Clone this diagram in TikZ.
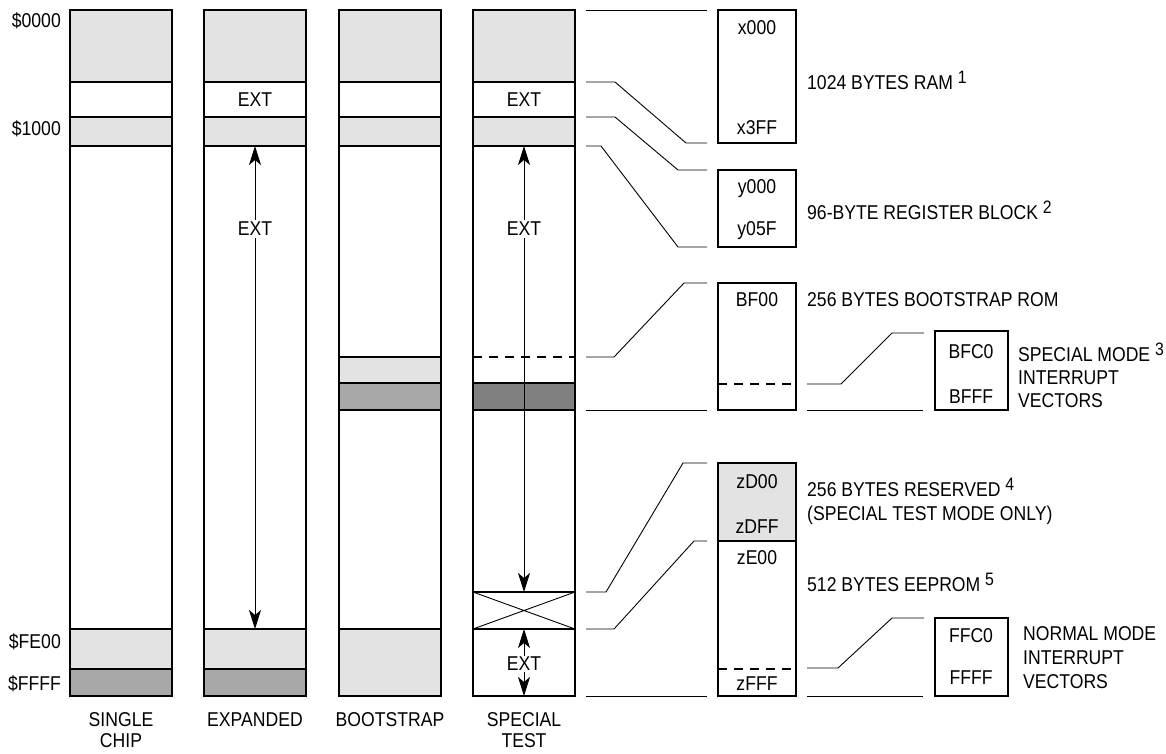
\documentclass[tikz,border=0pt]{standalone}
\usepackage{fontspec}
\setmainfont{Liberation Sans}[FakeStretch=0.88]
\usetikzlibrary{arrows.meta}
\definecolor{lg}{HTML}{E3E3E3}
\definecolor{mg}{HTML}{A8A8A8}
\definecolor{dg}{HTML}{808080}
\newcommand{\sups}[1]{\raisebox{6pt}{\fontsize{18}{18}\selectfont #1}}
\begin{document}
\begin{tikzpicture}[x=1pt,y=-1pt,
  txt/.style={font=\fontsize{20}{23}\selectfont, inner sep=0pt},
  colbox/.style={draw=black, line width=2pt},
  bandline/.style={line width=1.8pt},
  conn/.style={line width=0.9pt},
  arr/.style={line width=0.9pt, -{Stealth[length=19pt,width=12pt,inset=5pt]}},
  dsh/.style={line width=2pt, dash pattern=on 9pt off 7pt},
  extlbl/.style={txt, fill=white, inner sep=2pt},
]
\useasboundingbox (0,0) rectangle (1166,753);

% ---------- Column 1: single chip ----------
\fill[lg] (70,10) rectangle (172,82);
\fill[lg] (70,117) rectangle (172,146);
\fill[lg] (70,629) rectangle (172,669);
\fill[mg] (70,669) rectangle (172,696);
\draw[bandline] (70,82)--(172,82) (70,117)--(172,117) (70,146)--(172,146)
  (70,629)--(172,629) (70,669)--(172,669);
\draw[colbox] (70,10) rectangle (172,696);

% ---------- Column 2: expanded ----------
\fill[lg] (204,10) rectangle (306,82);
\fill[lg] (204,117) rectangle (306,146);
\fill[lg] (204,629) rectangle (306,669);
\fill[mg] (204,669) rectangle (306,696);
\draw[bandline] (204,82)--(306,82) (204,117)--(306,117) (204,146)--(306,146)
  (204,629)--(306,629) (204,669)--(306,669);
\draw[colbox] (204,10) rectangle (306,696);
\node[txt] (ext2a) at (255,100) {EXT};
\node[extlbl] (ext2b) at (255,229) {EXT};
\coordinate (e2top) at (255,146);
\coordinate (e2bot) at (255,629);
\draw[arr] (ext2b.north) -- (e2top);
\draw[arr] (ext2b.south) -- (e2bot);

% ---------- Column 3: bootstrap ----------
\fill[lg] (339,10) rectangle (441,82);
\fill[lg] (339,117) rectangle (441,146);
\fill[lg] (339,357) rectangle (441,383);
\fill[mg] (339,383) rectangle (441,410);
\fill[lg] (339,629) rectangle (441,696);
\draw[bandline] (339,82)--(441,82) (339,117)--(441,117) (339,146)--(441,146)
  (339,357)--(441,357) (339,383)--(441,383) (339,410)--(441,410) (339,629)--(441,629);
\draw[colbox] (339,10) rectangle (441,696);

% ---------- Column 4: special test ----------
\fill[lg] (473,10) rectangle (575,82);
\fill[lg] (473,117) rectangle (575,146);
\fill[dg] (473,383) rectangle (575,410);
\draw[bandline] (473,82)--(575,82) (473,117)--(575,117) (473,146)--(575,146)
  (473,383)--(575,383) (473,410)--(575,410) (473,592)--(575,592) (473,629)--(575,629);
\draw[dsh] (473,357)--(575,357);
\draw[conn] (473,592)--(575,629) (473,629)--(575,592);
\draw[colbox] (473,10) rectangle (575,696);
\node[txt] (ext4a) at (524,100) {EXT};
\node[extlbl] (ext4b) at (524,229) {EXT};
\coordinate (e4top) at (524,146);
\coordinate (e4bot) at (524,592);
\draw[arr] (ext4b.north) -- (e4top);
\draw[arr] (ext4b.south) -- (e4bot);
\node[extlbl, inner sep=1pt] (ext4c) at (524,664) {EXT};
\coordinate (e4ctop) at (524,629);
\coordinate (e4cbot) at (524,696);
\draw[arr] (ext4c.north) -- (e4ctop);
\draw[arr] (ext4c.south) -- (e4cbot);

% ---------- Left address labels ----------
\node[txt, anchor=east] (a0000) at (61,21) {\$0000};
\node[txt, anchor=east] (a1000) at (61,129) {\$1000};
\node[txt, anchor=east] (afe00) at (61,642) {\$FE00};
\node[txt, anchor=east] (affff) at (61,684) {\$FFFF};

% ---------- Bottom column labels ----------
\node[txt, align=center, font=\fontsize{20}{21}\selectfont] (l1) at (121,730) {SINGLE\\CHIP};
\node[txt] (l2) at (255,720) {EXPANDED};
\node[txt] (l3) at (390,720) {BOOTSTRAP};
\node[txt, align=center, font=\fontsize{20}{21}\selectfont] (l4) at (524,730) {SPECIAL\\TEST};

% ---------- Right side connectors ----------
\draw[conn] (586,10) -- (707,10);
\draw[conn] (586,82) -- (615,82) -- (686,143) -- (707,143);
\draw[conn] (586,117) -- (615,117) -- (678,170) -- (707,170);
\draw[conn] (586,146) -- (601,146) -- (678,247) -- (707,247);
\draw[conn] (586,357) -- (614,357) -- (684,283) -- (707,283);
\draw[conn] (586,410) -- (707,410);
\draw[conn] (586,592) -- (606,592) -- (683,463) -- (707,463);
\draw[conn] (586,629) -- (614,629) -- (694,541) -- (707,541);
\draw[conn] (586,696) -- (707,696);
\draw[conn] (807,384) -- (841,384) -- (892,333) -- (924,333);
\draw[conn] (807,410) -- (923,410);
\draw[conn] (807,668) -- (838,668) -- (892,618) -- (924,618);
\draw[conn] (807,696) -- (923,696);

% ---------- Right boxes ----------
\draw[colbox] (718,10) rectangle (796,143);
\node[txt] (x000) at (757,28) {x000};
\node[txt] (x3ff) at (757,128) {x3FF};

\draw[colbox] (718,170) rectangle (796,247);
\node[txt] (y000) at (757,189) {y000};
\node[txt] (y05f) at (757,231) {y05F};

\draw[colbox] (718,283) rectangle (796,410);
\draw[dsh] (718,384) -- (796,384);
\node[txt] (bf00) at (757,300) {BF00};

\fill[lg] (718,463) rectangle (796,541);
\draw[colbox] (718,463) rectangle (796,696);
\draw[bandline] (718,541) -- (796,541);
\draw[dsh] (718,669) -- (796,669);
\node[txt] (zd00) at (757,482) {zD00};
\node[txt] (zdff) at (757,527) {zDFF};
\node[txt] (ze00) at (757,558) {zE00};
\node[txt] (zfff) at (757,684) {zFFF};

\draw[colbox] (935,331) rectangle (1008,410);
\node[txt] (bfc0) at (971,352) {BFC0};
\node[txt] (bfff) at (971,397) {BFFF};

\draw[colbox] (935,618) rectangle (1008,696);
\node[txt] (ffc0) at (971,636) {FFC0};
\node[txt] (ffff) at (971,678) {FFFF};

% ---------- Right descriptions ----------
\node[txt, anchor=west] (d1) at (807,80) {1024 BYTES RAM \sups{1}};
\node[txt, anchor=west] (d2) at (807,210) {96-BYTE REGISTER BLOCK \sups{2}};
\node[txt, anchor=west] (d3) at (807,300) {256 BYTES BOOTSTRAP ROM};
\node[txt, anchor=west, align=left] (d4) at (1018,375) {SPECIAL MODE \sups{3}\\INTERRUPT\\VECTORS};
\node[txt, anchor=west, align=left, font=\fontsize{20}{24}\selectfont] (d5) at (807,501) {256 BYTES RESERVED \sups{4}\\(SPECIAL TEST MODE ONLY)};
\node[txt, anchor=west] (d6) at (807,582) {512 BYTES EEPROM \sups{5}};
\node[txt, anchor=west, align=left, font=\fontsize{20}{24}\selectfont] (d7) at (1023,658) {NORMAL MODE\\INTERRUPT\\VECTORS};
\end{tikzpicture}
\end{document}
